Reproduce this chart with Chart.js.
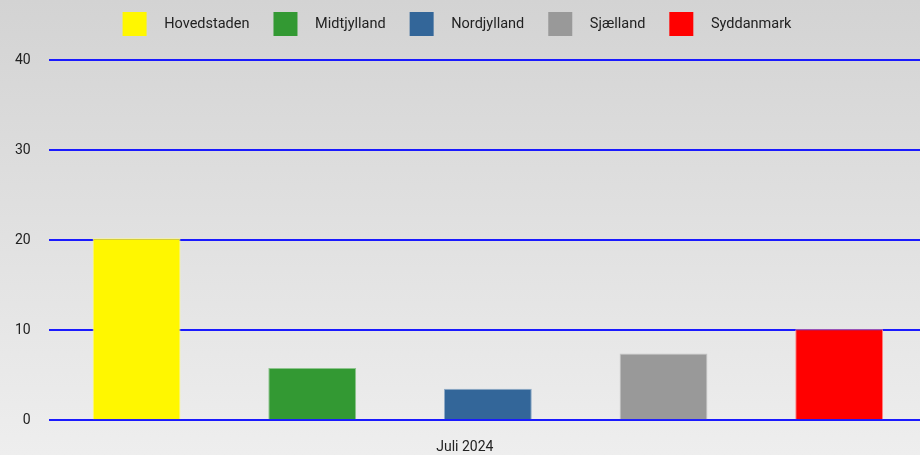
<!DOCTYPE html>
<html>
<head>
<meta charset="utf-8">
<script src="https://cdn.jsdelivr.net/npm/chart.js@4/dist/chart.umd.min.js"></script>
<style>
  html, body { margin: 0; padding: 0; }
  body {
    width: 920px;
    height: 455px;
    background: linear-gradient(to bottom, #d3d3d3, #eeeeee);
    overflow: hidden;
  }
  #wrap { width: 927px; height: 455px; }
</style>
</head>
<body>
<div id="wrap"><canvas id="chart"></canvas></div>
<script>
const categories = ["Juli 2024"];
const regions = ["Hovedstaden", "Midtjylland", "Nordjylland", "Sjælland", "Syddanmark"];
const regionValues = [20.2, 5.8, 3.5, 7.4, 10.1];
const regionColors = ["#fff700", "#339933", "#336699", "#999999", "#ff0000"];
const regionEdges = ["#fff98a", "#8cc48c", "#8fabc7", "#c4c4c4", "#ff8080"];
const yTicks = [0, 10, 20, 30, 40];

const datasets = regions.map((name, i) => ({
  label: name,
  data: [regionValues[i]],
  backgroundColor: regionColors[i],
  borderColor: regionEdges[i],
  borderWidth: 1,
  barPercentage: 0.5,
  categoryPercentage: 1,
}));

// legend sits a bit left of centre and the plot starts lower than default
const legendTweak = {
  id: "legendTweak",
  beforeInit(chart) {
    const fit = chart.legend.fit;
    chart.legend.fit = function () {
      fit.bind(chart.legend)();
      this.height += 14;
    };
  },
  afterLayout(chart) {
    chart.legend.left -= 5;
    chart.legend.right -= 5;
  },
};

new Chart(document.querySelector("#chart"), {
  type: "bar",
  data: { labels: categories, datasets },
  plugins: [legendTweak],
  options: {
    responsive: true,
    maintainAspectRatio: false,
    animation: false,
    layout: { padding: { left: -3, right: 0, top: -12, bottom: -12 } },
    plugins: {
      tooltip: { enabled: false },
      legend: {
        position: "top",
        labels: {
          boxWidth: 24,
          boxHeight: 24,
          padding: 24,
          color: "#222",
          font: { family: "Roboto", size: 14.5 },
          generateLabels: (chart) =>
            Chart.defaults.plugins.legend.labels
              .generateLabels(chart)
              .map((item) => ({ ...item, lineWidth: 0, text: "\u2002\u2009" + item.text })),
        },
      },
    },
    scales: {
      x: {
        grid: { display: false },
        border: { display: false },
        ticks: {
          color: "#222",
          font: { family: "Roboto", size: 14 },
          labelOffset: -23,
          padding: 11,
        },
      },
      y: {
        min: 0,
        max: 40,
        afterBuildTicks: (axis) => {
          axis.ticks = yTicks.map((v) => ({ value: v }));
        },
        grid: { color: "#1a1aff", lineWidth: 2, drawTicks: false },
        border: { display: false },
        ticks: {
          color: "#222",
          font: { family: "Roboto", size: 14 },
          padding: 18,
        },
      },
    },
  },
});
</script>
</body>
</html>
